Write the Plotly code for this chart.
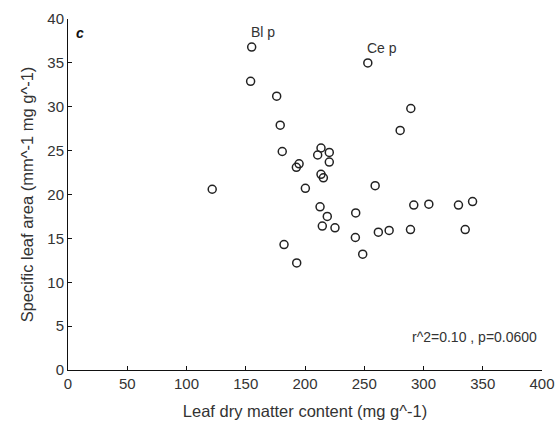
import plotly.graph_objects as go

ldmc = [121.7, 155.0, 154.1, 176.1, 179.1, 180.8, 182.3, 192.7, 195.0, 193.0,
        200.3, 210.7, 213.5, 220.5, 220.5, 213.5, 215.5, 212.7, 218.8, 214.6,
        225.3, 242.8, 242.5, 248.7, 253.0, 259.2, 261.9, 271.0, 280.3, 289.3,
        289.0, 291.8, 304.5, 329.5, 335.2, 341.4]
sla = [20.6, 36.8, 32.9, 31.2, 27.9, 24.9, 14.3, 23.1, 23.5, 12.2,
       20.7, 24.5, 25.3, 24.8, 23.7, 22.3, 21.9, 18.6, 17.5, 16.4,
       16.2, 17.9, 15.1, 13.2, 35.0, 21.0, 15.7, 15.9, 27.3, 29.8,
       16.0, 18.8, 18.9, 18.8, 16.0, 19.2]

labels = [("Bl p", 155.0, 36.8), ("Ce p", 253.0, 35.0)]
x_ticks = [0, 50, 100, 150, 200, 250, 300, 350, 400]
y_ticks = [0, 5, 10, 15, 20, 25, 30, 35, 40]

FONT = "Liberation Sans, Arial, sans-serif"
INK = "#333333"

fig = go.Figure()
fig.add_trace(go.Scatter(
    x=ldmc, y=sla, mode="markers",
    marker=dict(symbol="circle-open", size=8, color="#222222",
                line=dict(width=1.5, color="#222222")),
    showlegend=False, hoverinfo="skip"))

for txt, lx, ly in labels:
    fig.add_annotation(x=lx, y=ly, text=txt, showarrow=False,
                       xanchor="left", yanchor="middle", xshift=-3, yshift=15,
                       font=dict(family=FONT, size=14, color=INK))

fig.add_annotation(x=0.026, y=0.96, xref="paper", yref="paper", text="<b><i>c</i></b>",
                   showarrow=False, xanchor="center", yanchor="middle",
                   font=dict(family=FONT, size=14, color="#111111"))
fig.add_annotation(x=0.993, y=0.094, xref="paper", yref="paper",
                   text="r^2=0.10 , p=0.0600", showarrow=False,
                   xanchor="right", yanchor="middle",
                   font=dict(family=FONT, size=14, color=INK))

axis_common = dict(showline=True, linecolor="#111111", linewidth=1,
                   ticks="inside", ticklen=4, tickcolor="#111111", tickwidth=1,
                   showgrid=False, zeroline=False, mirror=False, automargin=False,
                   tickfont=dict(family=FONT, size=15, color=INK))

fig.update_xaxes(range=[0, 400], tickvals=x_ticks, ticktext=[str(v) for v in x_ticks],
                 title=dict(text="Leaf dry matter content (mg g^-1)", standoff=14,
                            font=dict(family=FONT, size=16.5, color=INK)),
                 **axis_common)
fig.update_yaxes(range=[0, 40], tickvals=y_ticks, ticktext=[str(v) for v in y_ticks],
                 title=dict(text="Specific leaf area (mm^-1 mg g^-1)", standoff=9,
                            font=dict(family=FONT, size=16.5, color=INK)),
                 **axis_common)

fig.update_layout(width=555, height=423, margin=dict(l=68, r=13, t=19, b=53),
                  plot_bgcolor="white", paper_bgcolor="white")

fig.write_html("out.html")
